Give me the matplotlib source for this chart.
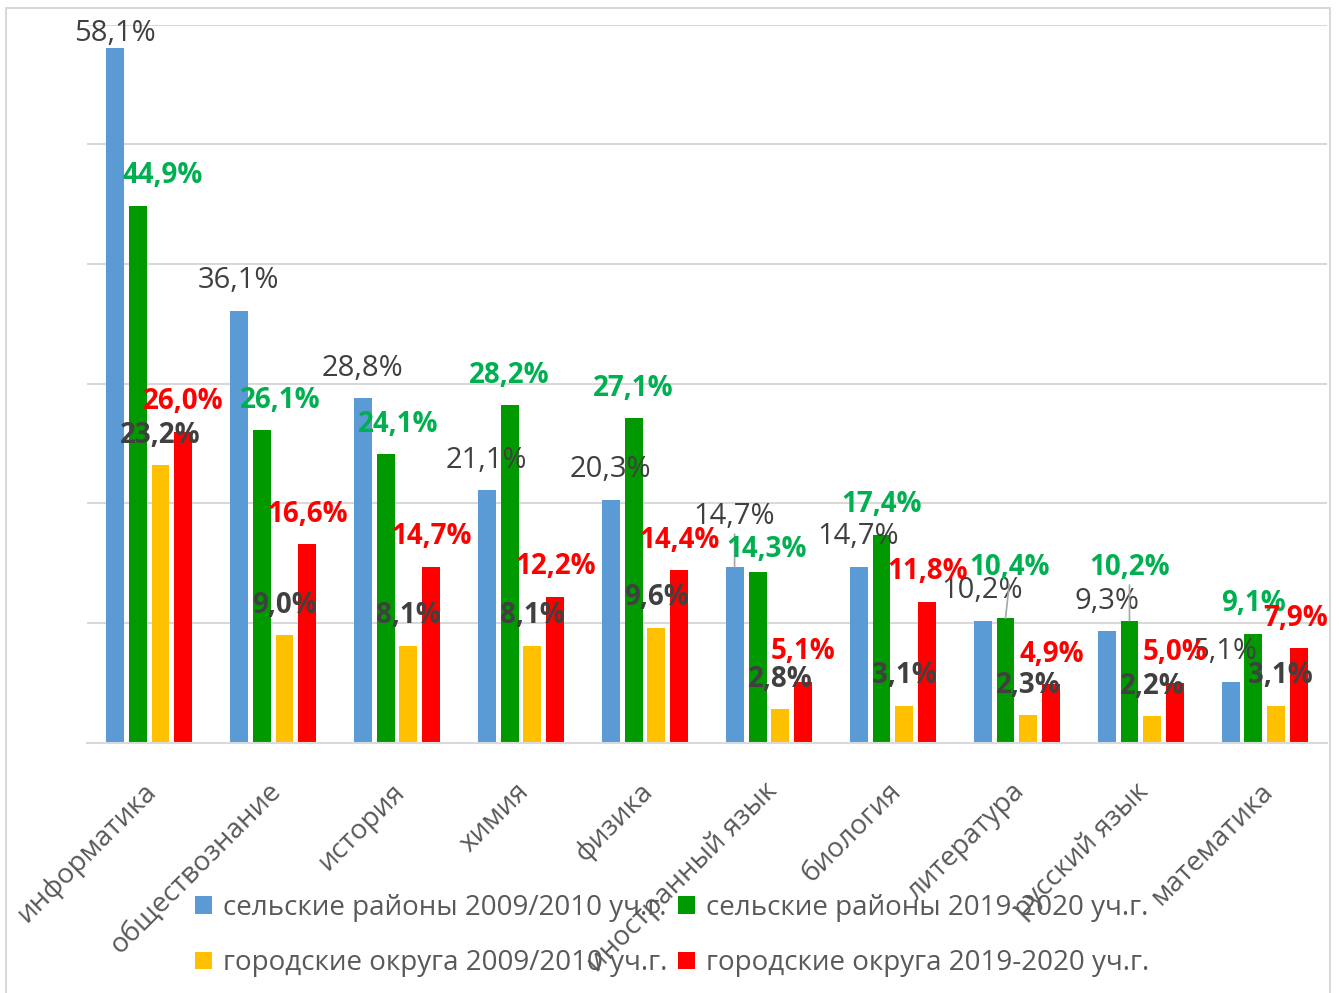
import numpy as np
import matplotlib.pyplot as plt
from matplotlib.patches import Rectangle
from matplotlib.transforms import ScaledTranslation

plt.rcParams["font.family"] = ["Open Sans", "DejaVu Sans"]

subjects = ["информатика", "обществознание", "история", "химия", "физика",
            "иностранный язык", "биология", "литература", "русский язык", "математика"]
rural_2009 = [58.1, 36.1, 28.8, 21.1, 20.3, 14.7, 14.7, 10.2, 9.3, 5.1]
rural_2019 = [44.9, 26.1, 24.1, 28.2, 27.1, 14.3, 17.4, 10.4, 10.2, 9.1]
urban_2009 = [23.2, 9.0, 8.1, 8.1, 9.6, 2.8, 3.1, 2.3, 2.2, 3.1]
urban_2019 = [26.0, 16.6, 14.7, 12.2, 14.4, 5.1, 11.8, 4.9, 5.0, 7.9]
names = ["сельские районы 2009/2010 уч.г.", "сельские районы 2019-2020 уч.г.",
         "городские округа 2009/2010 уч.г.", "городские округа 2019-2020 уч.г."]

series = [rural_2009, rural_2019, urban_2009, urban_2019]
bar_colors = ["#5B9BD5", "#009900", "#FFC000", "#FF0000"]
text_colors = ["#404040", "#00B050", "#404040", "#FF0000"]
weights = ["normal", "bold", "bold", "bold"]
label_sizes = [21, 20, 20, 20]

# manually moved labels (series, category): (dx px, dy px, leader line)
nudges = {
    (0, 0): (0, -16, False),
    (1, 0): (25, 0, False),
    (1, 1): (19, 0, False),
    (1, 2): (13, 0, False),
    (0, 5): (0, 20, True),
    (1, 5): (9, -8, False),
    (1, 7): (4, 21, True),
    (1, 8): (0, 23, True),
    (0, 9): (-6, 0, False),
    (2, 9): (4, 0, False),
    (3, 9): (-4, 0, False),
}

fig = plt.figure(figsize=(13.39, 9.93), dpi=100)
ax = fig.add_axes([0.065, 0.252, 0.926, 0.723])

x = np.arange(len(subjects))
stride = 0.185
width = 0.145
handles = []
for i, vals in enumerate(series):
    xs = x + (i - 1.5) * stride
    b = ax.bar(xs, vals, width, color=bar_colors[i], label=names[i], zorder=2)
    handles.append(b)
    for j, v in enumerate(vals):
        dx, dy, leader = nudges.get((i, j), (0, 0, False))
        arrow = None
        if leader:
            arrow = dict(arrowstyle="-", color="#A6A6A6", lw=1.2,
                         relpos=(0.5, 0.0), shrinkA=0, shrinkB=0)
        ax.annotate(f"{v:.1f}".replace(".", ",") + "%", (xs[j], v),
                    xytext=(dx, 30 + dy), textcoords="offset pixels",
                    ha="center", va="center", fontsize=label_sizes[i],
                    color=text_colors[i], fontweight=weights[i],
                    arrowprops=arrow, zorder=3)

ax.set_xlim(-0.5, len(subjects) - 0.5)
ax.set_ylim(0, 60)
ax.set_yticks(np.arange(10, 61, 10))
ax.yaxis.grid(True, color="#D9D9D9", lw=1.5, zorder=0)
ax.tick_params(axis="y", left=False, labelleft=False)
for s in ["top", "right", "left"]:
    ax.spines[s].set_visible(False)
ax.spines["bottom"].set_color("#D9D9D9")
ax.spines["bottom"].set_linewidth(1.5)

ax.set_xticks(x)
ax.set_xticklabels(subjects, rotation=45, ha="right", va="top",
                   rotation_mode="anchor", fontsize=20, color="#595959")
ax.tick_params(axis="x", length=0, pad=25)
for lab in ax.get_xticklabels():
    lab.set_transform(lab.get_transform() + ScaledTranslation(-0.06, 0, fig.dpi_scale_trans))

order = [0, 2, 1, 3]
fig.legend([handles[k] for k in order], [names[k] for k in order],
           loc="center", bbox_to_anchor=(0.502, 0.058), ncol=2, frameon=False,
           fontsize=20, labelcolor="#595959", handlelength=0.6, handleheight=0.6,
           handletextpad=0.4, columnspacing=0.4, labelspacing=1.0)

fig.patches.append(Rectangle((6 / 1339, -0.05), 1324 / 1339, 1.05 - 8 / 993,
                             transform=fig.transFigure, fill=False,
                             edgecolor="#D9D9D9", lw=1.5))

fig.savefig("out.png", dpi=100, facecolor="white")
